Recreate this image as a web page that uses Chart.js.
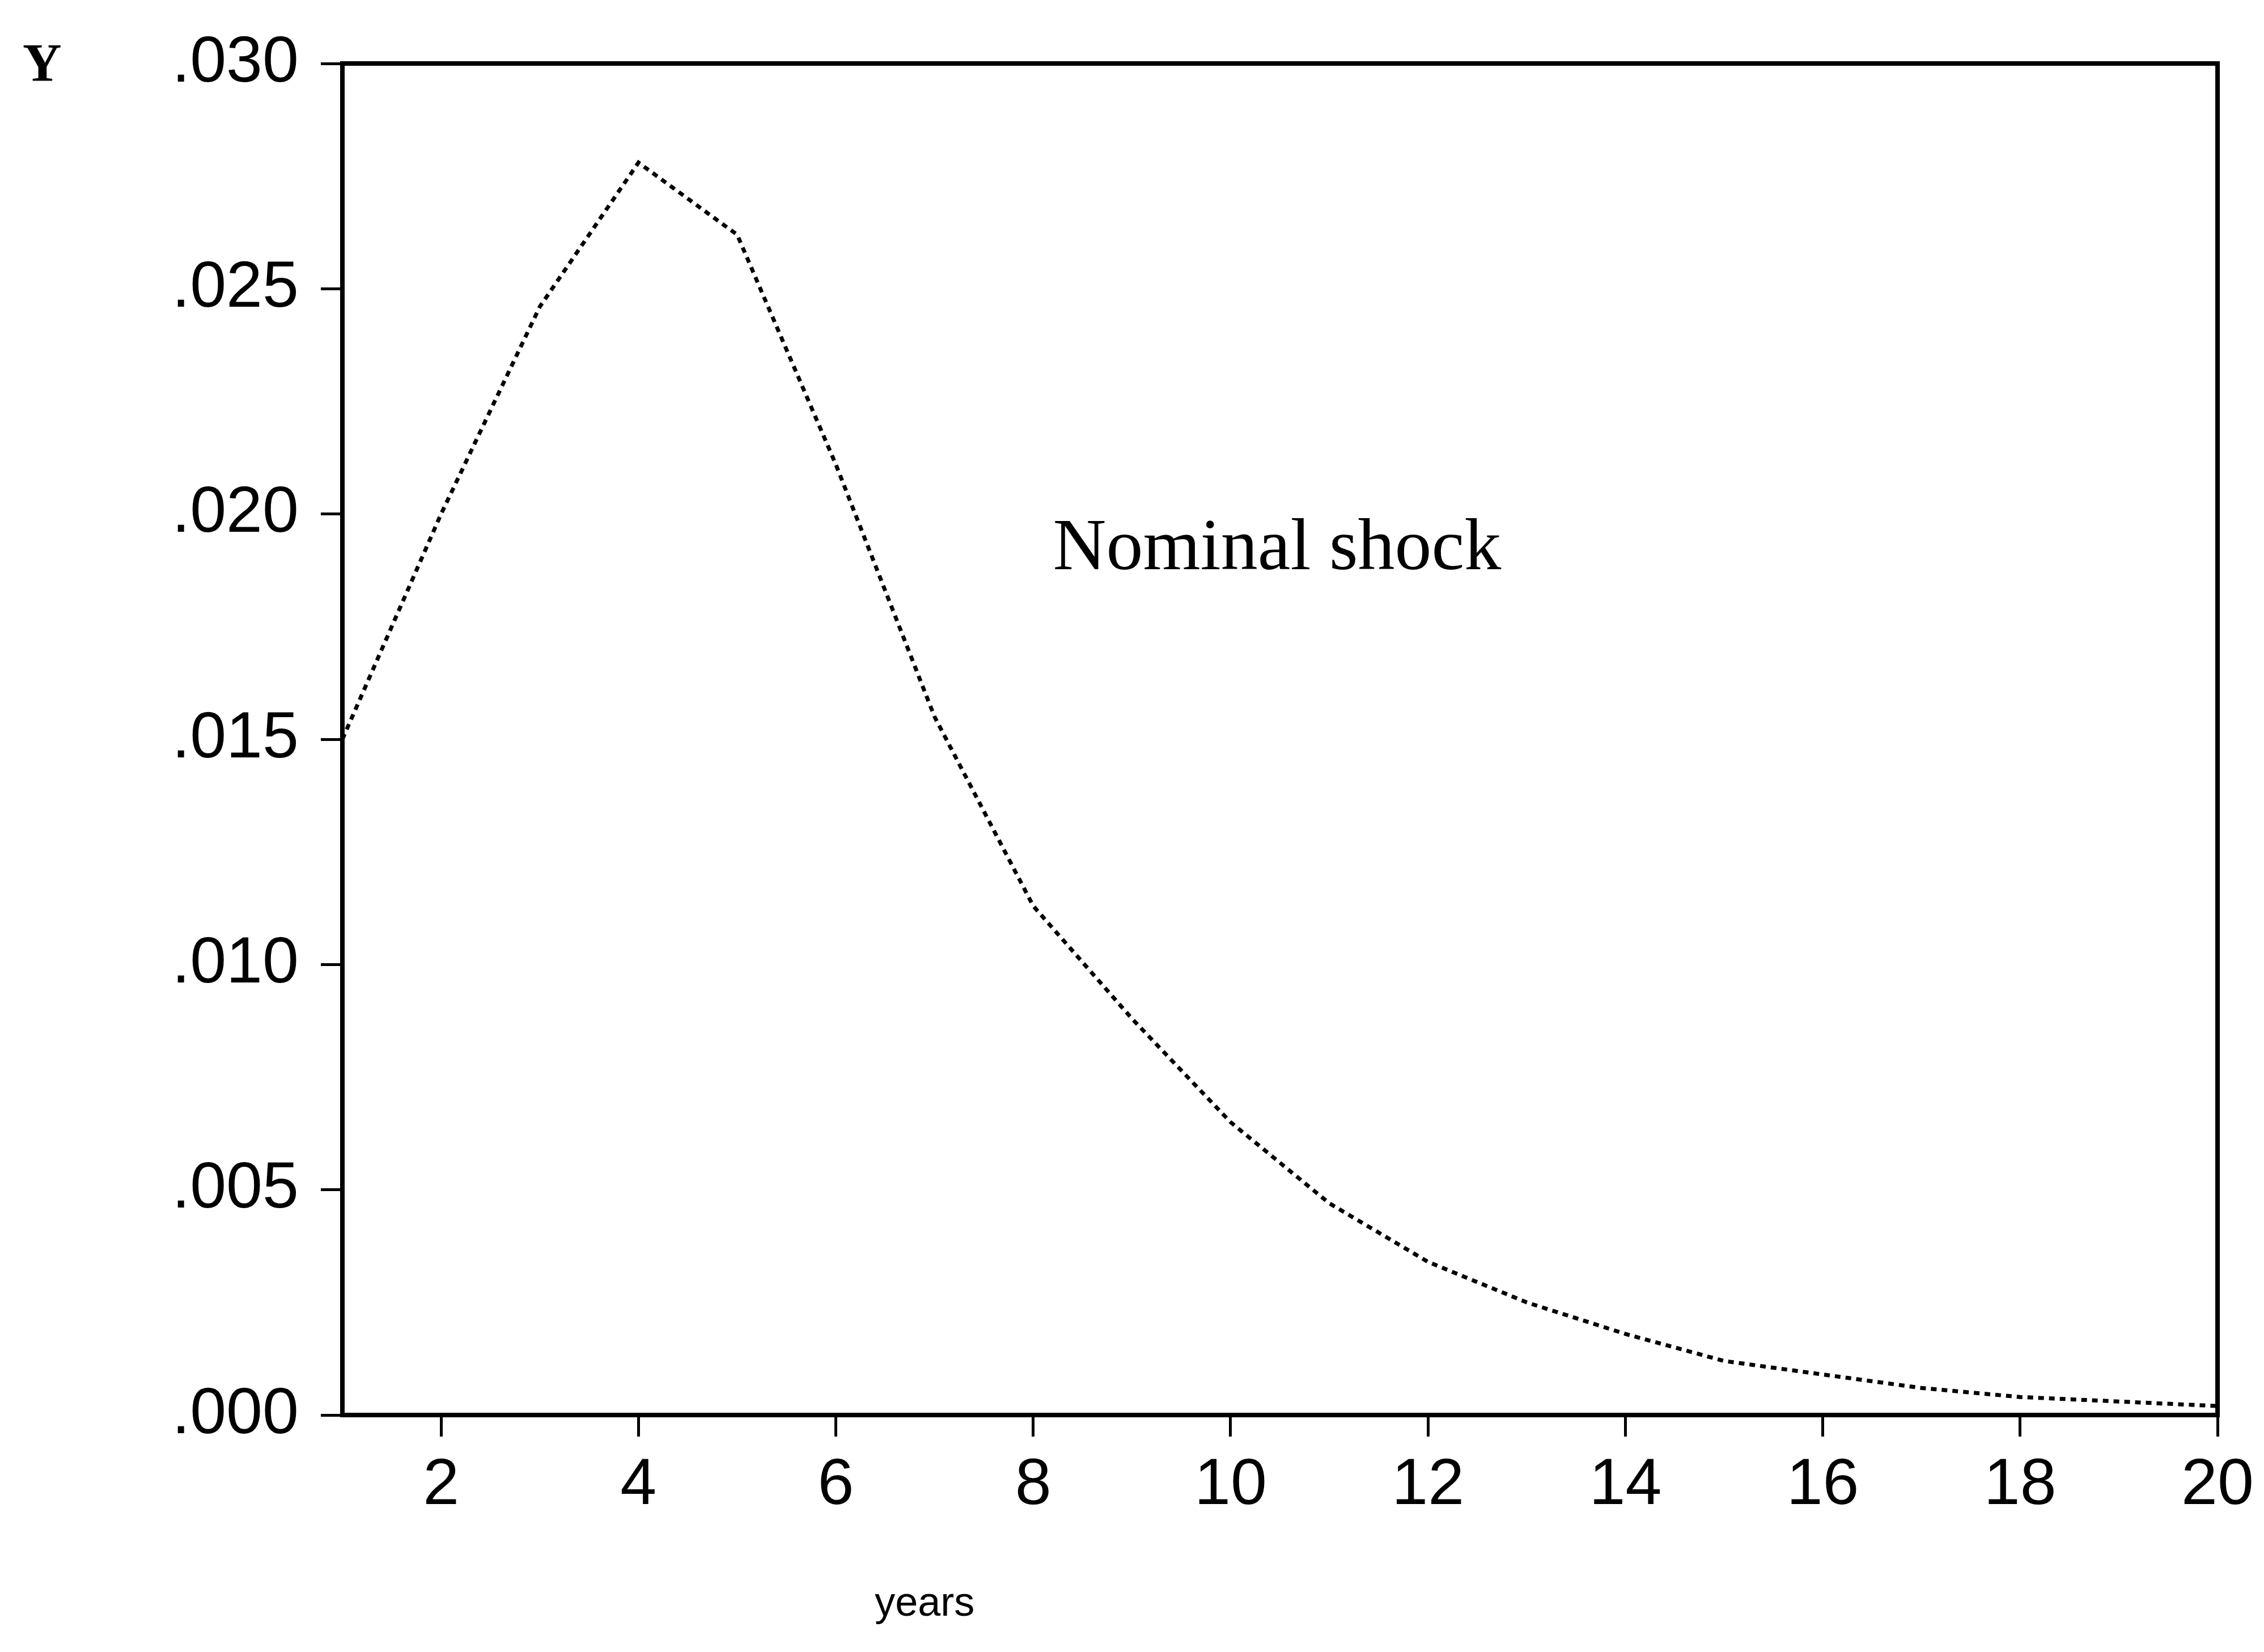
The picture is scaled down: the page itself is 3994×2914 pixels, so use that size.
<!DOCTYPE html>
<html>
<head>
<meta charset="utf-8">
<script src="https://cdn.jsdelivr.net/npm/chart.js@4/dist/chart.umd.min.js"></script>
<style>
  html, body { margin: 0; padding: 0; background: #fff; }
  #wrap { width: 3994px; height: 2914px; position: relative; }
</style>
</head>
<body>
<div id="wrap"><canvas id="c" width="3994" height="2914"></canvas></div>
<script>
const years = [1,2,3,4,5,6,7,8,9,10,11,12,13,14,15,16,17,18,19,20];
const nominalShock = [0.0150,0.0200,0.0246,0.0278,0.0262,0.0211,0.0155,0.0113,0.0088,0.0065,0.0047,0.0034,0.0025,0.0018,0.0012,0.0009,0.0006,0.0004,0.0003,0.0002];
const xTickValues = [2,4,6,8,10,12,14,16,18,20];
const xTickLabels = ['2','4','6','8','10','12','14','16','18','20'];
const yTickValues = [0,0.005,0.010,0.015,0.020,0.025,0.030];
const yTickLabels = ['.000','.005','.010','.015','.020','.025','.030'];
const seriesLabel = 'Nominal shock';
const xTitle = 'years';
const yTitle = 'Y';

const frame = {
  id: 'frame',
  afterDraw(chart) {
    const {ctx, chartArea: a, scales} = chart;
    ctx.save();
    ctx.strokeStyle = '#000';
    ctx.lineWidth = 8;
    ctx.strokeRect(a.left, a.top, a.right - a.left, a.bottom - a.top);
    ctx.fillStyle = '#000';
    ctx.font = '130px "Liberation Serif", "Times New Roman", serif';
    ctx.textAlign = 'left';
    ctx.textBaseline = 'middle';
    ctx.fillText(seriesLabel, scales.x.getPixelForValue(8.2), scales.y.getPixelForValue(0.0192));
    ctx.font = '72px "Liberation Sans", Arial, sans-serif';
    ctx.textAlign = 'center';
    ctx.fillText(xTitle, scales.x.getPixelForValue(6.9), 2830);
    ctx.font = 'bold 95px "Liberation Serif", serif';
    ctx.textAlign = 'left';
    ctx.fillText(yTitle, 40, 118);
    ctx.restore();
  }
};

new Chart(document.getElementById('c'), {
  type: 'line',
  data: {
    datasets: [{
      label: seriesLabel,
      data: years.map((y, i) => ({x: y, y: nominalShock[i]})),
      borderColor: '#000',
      borderWidth: 7,
      borderDash: [10, 9],
      pointRadius: 0,
      tension: 0,
      fill: false
    }]
  },
  options: {
    responsive: false,
    animation: false,
    devicePixelRatio: 1,
    layout: { padding: { left: 0, top: 112, right: 59, bottom: 0 } },
    plugins: { legend: { display: false }, tooltip: { enabled: false } },
    scales: {
      x: {
        type: 'linear', min: 1, max: 20,
        afterBuildTicks(s) { s.ticks = xTickValues.map(v => ({value: v})); },
        afterFit(s) { s.height = 418; },
        grid: { display: true, drawOnChartArea: false, drawTicks: true, tickLength: 38, tickWidth: 5, tickColor: '#000' },
        border: { display: true, color: '#000', width: 8 },
        ticks: {
          padding: 18, color: '#000',
          font: { family: '"Liberation Sans", Arial, sans-serif', size: 115 },
          callback(v) { const i = xTickValues.indexOf(v); return i >= 0 ? xTickLabels[i] : ''; },
          maxRotation: 0, autoSkip: false
        }
      },
      y: {
        type: 'linear', min: 0, max: 0.030,
        afterBuildTicks(s) { s.ticks = yTickValues.map(v => ({value: v})); },
        afterFit(s) { s.width = 604; },
        grid: { display: true, drawOnChartArea: false, drawTicks: true, tickLength: 38, tickWidth: 5, tickColor: '#000' },
        border: { display: true, color: '#000', width: 8 },
        ticks: {
          padding: 39, color: '#000',
          font: { family: '"Liberation Sans", Arial, sans-serif', size: 115 },
          callback(v) { const i = yTickValues.findIndex(t => Math.abs(t - v) < 1e-9); return i >= 0 ? yTickLabels[i] : ''; }
        }
      }
    }
  },
  plugins: [frame]
});
</script>
</body>
</html>
